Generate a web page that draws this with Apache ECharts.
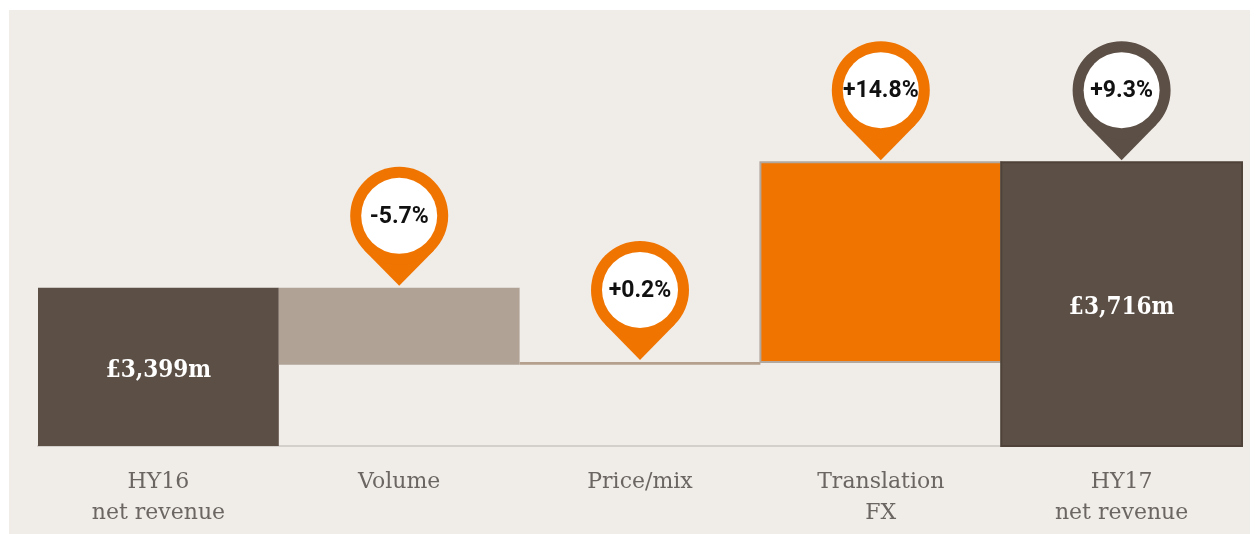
<!DOCTYPE html>
<html>
<head>
<meta charset="utf-8">
<script src="https://cdn.jsdelivr.net/npm/echarts@6/dist/echarts.min.js"></script>
<style>
html, body { margin: 0; padding: 0; background: #ffffff; }
#chart { position: absolute; left: 9px; top: 10px; width: 1241px; height: 524px; background: #f0ece8; }
</style>
</head>
<body>
<div id="chart"></div>
<script>
var categories = ['HY16\nnet revenue', 'Volume', 'Price/mix', 'Translation\nFX', 'HY17\nnet revenue'];
var startValue = 3399;          // £m
var deltas = [-194, 7, 504];    // volume, price/mix, translation FX
var endValue = 3716;            // £m
var pinLabels = ['', '-5.7%', '+0.2%', '+14.8%', '+9.3%'];
var barLabels = ['£3,399m', '', '', '', '£3,716m'];
var yMin = 3000, yMax = 4100;

var barColors = ['#5c4f45', '#b0a396', '#b4a08c', '#f07400', '#5c4f45'];
var barBorders = [null, null, null, '#b3a89d', '#4e4239'];
var pinColors = ['', '#f07400', '#f07400', '#f07400', '#5c4f45'];

// waterfall rows: [index, low, high]
var rows = [[0, yMin, startValue]];
var run = startValue;
deltas.forEach(function (d, k) {
    var next = run + d;
    rows.push([k + 1, Math.min(run, next), Math.max(run, next)]);
    run = next;
});
rows.push([4, yMin, endValue]);

var pins = [];
rows.forEach(function (r) {
    if (pinLabels[r[0]]) pins.push([r[0], r[2]]);
});

var chart = echarts.init(document.getElementById('chart'));

var option = {
    animation: false,
    grid: { left: 29, right: 8, top: 0, bottom: 88 },
    xAxis: {
        type: 'category',
        data: categories,
        axisLine: { lineStyle: { color: '#d3cfcb', width: 2 } },
        axisTick: { length: 9, lineStyle: { color: '#cdc8c3', width: 2 } },
        axisLabel: {
            fontSize: 22,
            lineHeight: 31,
            color: '#6b6661',
            fontFamily: 'DejaVu Serif',
            margin: 21
        },
        splitLine: { show: false }
    },
    yAxis: { type: 'value', min: yMin, max: yMax, show: false },
    series: [
        {
            type: 'custom',
            encode: { x: 0, y: [1, 2] },
            data: rows,
            renderItem: function (params, api) {
                var i = api.value(0);
                var p0 = api.coord([i, api.value(1)]);
                var p1 = api.coord([i, api.value(2)]);
                var w = api.size([1, 0])[0];
                var h = Math.max(p0[1] - p1[1], 2);
                var border = barBorders[i];
                return {
                    type: 'rect',
                    shape: { x: p1[0] - w / 2, y: p1[1], width: w, height: h },
                    style: {
                        fill: barColors[i],
                        stroke: border || null,
                        lineWidth: border ? 2 : 0
                    },
                    textContent: {
                        style: {
                            text: barLabels[i],
                            fill: '#ffffff',
                            font: 'bold 24px "DejaVu Serif Condensed", "DejaVu Serif"'
                        }
                    },
                    textConfig: { position: 'inside', offset: [0, 4] }
                };
            }
        },
        {
            type: 'custom',
            encode: { x: 0, y: 1 },
            data: pins,
            clip: false,
            z: 5,
            renderItem: function (params, api) {
                var i = api.value(0);
                var tip = api.coord([i, api.value(1)]);
                var ty = tip[1] - 2;
                var cx = tip[0], cy = ty - 70;
                var col = pinColors[i];
                return {
                    type: 'group',
                    children: [
                        { type: 'polygon', shape: { points: [[cx - 35, cy + 34.3], [cx + 35, cy + 34.3], [cx, ty]] }, style: { fill: col } },
                        { type: 'circle', shape: { cx: cx, cy: cy, r: 49 }, style: { fill: col } },
                        { type: 'circle', shape: { cx: cx, cy: cy, r: 38 }, style: { fill: '#ffffff' } },
                        {
                            type: 'text',
                            style: {
                                text: pinLabels[i], x: cx, y: cy + 1,
                                align: 'center', verticalAlign: 'middle',
                                font: 'bold 23px Roboto, "Liberation Sans"',
                                fill: '#111111'
                            }
                        }
                    ]
                };
            }
        }
    ]
};

chart.setOption(option);
window.addEventListener('resize', function () {
    chart.resize();
});
</script>
</body>
</html>
